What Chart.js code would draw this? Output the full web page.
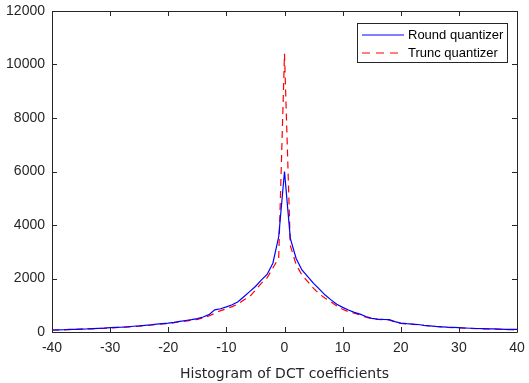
<!DOCTYPE html>
<html>
<head>
<meta charset="utf-8">
<script src="https://cdn.jsdelivr.net/npm/chart.js@4/dist/chart.umd.min.js"></script>
<style>
html,body{margin:0;padding:0;background:#fff;}
#wrap{width:529px;height:383px;position:relative;}
</style>
</head>
<body>
<div id="wrap"><canvas id="c" width="529" height="383"></canvas></div>
<script>
const xValues = [-40,-39,-38,-37,-36,-35,-34,-33,-32,-31,-30,-29,-28,-27,-26,-25,-24,-23,-22,-21,-20,-19,-18,-17,-16,-15,-14,-13,-12,-11,-10,-9,-8,-7,-6,-5,-4,-3,-2,-1,0,1,2,3,4,5,6,7,8,9,10,11,12,13,14,15,16,17,18,19,20,21,22,23,24,25,26,27,28,29,30,31,32,33,34,35,36,37,38,39,40];
const roundValues = [75,80,85,95,100,110,115,125,135,145,160,170,180,195,215,230,250,270,295,315,330,360,400,430,460,500,560,650,830,870,940,1020,1130,1320,1510,1700,1940,2150,2570,3560,6000,3500,2750,2320,2070,1820,1600,1380,1200,1035,920,820,735,670,580,510,480,470,465,390,330,310,295,280,250,230,210,195,180,170,160,150,140,130,125,120,115,105,95,95,100];
const truncValues = [70,75,80,90,95,105,110,120,130,140,150,165,175,190,205,220,240,260,280,300,320,345,380,410,440,470,520,600,700,800,870,950,1045,1200,1320,1570,1820,2020,2390,2760,10400,3230,2520,2130,1880,1630,1420,1260,1130,970,850,760,700,635,550,500,470,455,450,375,320,300,285,270,245,225,205,190,175,165,155,145,135,125,120,115,105,100,90,85,80];
const seriesNames = ["Round quantizer", "Trunc quantizer"];
const seriesColors = ["#0000ff", "#ff0000"];
const seriesDash = [[], [7, 5]];
const xTicks = [-40,-30,-20,-10,0,10,20,30,40];
const yTicks = [0,2000,4000,6000,8000,10000,12000];
const xLabel = "Histogram of DCT coefficients";

const AX = '#262626';
const FONT = '"Liberation Sans", Arial, Helvetica, sans-serif';

const boxPlugin = {
  id: 'box',
  afterDraw(chart) {
    const ctx = chart.ctx, a = chart.chartArea;
    const xs = chart.scales.x, ys = chart.scales.y;
    ctx.save();
    ctx.strokeStyle = AX;
    ctx.lineWidth = 1;
    ctx.beginPath();
    ctx.rect(Math.round(a.left)+0.5, Math.round(a.top)+0.5, Math.round(a.right-a.left), Math.round(a.bottom-a.top));
    ctx.stroke();
    const tl = 5;
    ctx.beginPath();
    xTicks.forEach(v => {
      const p = Math.round(xs.getPixelForValue(v)) + 0.5;
      ctx.moveTo(p, a.bottom); ctx.lineTo(p, a.bottom - tl);
      ctx.moveTo(p, a.top); ctx.lineTo(p, a.top + tl);
    });
    yTicks.forEach(v => {
      const p = Math.round(ys.getPixelForValue(v)) + 0.5;
      ctx.moveTo(a.left, p); ctx.lineTo(a.left + tl, p);
      ctx.moveTo(a.right, p); ctx.lineTo(a.right - tl, p);
    });
    ctx.stroke();

    // legend
    const lx = 357, ly = 23, lw = 150, lh = 39;
    ctx.fillStyle = '#fff';
    ctx.fillRect(lx, ly, lw, lh);
    ctx.strokeStyle = AX;
    ctx.strokeRect(lx + 0.5, ly + 0.5, lw, lh);
    ctx.font = '13px ' + FONT;
    ctx.textBaseline = 'middle';
    seriesNames.forEach((name, i) => {
      const yy = ly + 12 + i * 17.5;
      ctx.save();
      ctx.strokeStyle = seriesColors[i];
      ctx.lineWidth = 1.2;
      ctx.setLineDash(i === 1 ? [8, 6] : []);
      ctx.beginPath();
      ctx.moveTo(lx + 5, Math.round(yy));
      ctx.lineTo(lx + 47, Math.round(yy));
      ctx.stroke();
      ctx.restore();
      ctx.fillStyle = '#000';
      ctx.textAlign = 'left';
      ctx.fillText(name, lx + 51, yy + 0.5);
    });
    ctx.restore();
  }
};

new Chart(document.getElementById('c'), {
  type: 'line',
  data: {
    datasets: [
      { label: seriesNames[0], data: xValues.map((x, i) => ({x, y: roundValues[i]})), borderColor: seriesColors[0], borderWidth: 1.2, borderDash: seriesDash[0], pointRadius: 0, tension: 0, fill: false },
      { label: seriesNames[1], data: xValues.map((x, i) => ({x, y: truncValues[i]})), borderColor: seriesColors[1], borderWidth: 1.2, borderDash: seriesDash[1], pointRadius: 0, tension: 0, fill: false }
    ]
  },
  options: {
    responsive: false,
    animation: false,
    layout: { padding: { left: 0, right: 12, top: 11, bottom: 0 } },
    plugins: { legend: { display: false }, tooltip: { enabled: false } },
    scales: {
      x: {
        type: 'linear', min: -40, max: 40,
        afterBuildTicks: s => { s.ticks = xTicks.map(v => ({value: v})); },
        afterFit: s => { s.height = 51; s.paddingLeft = 0; s.paddingRight = 0; },
        grid: { display: false, drawTicks: false },
        border: { display: false },
        ticks: { color: AX, font: { size: 14, family: FONT }, padding: 8, maxRotation: 0 },
        title: { display: true, text: xLabel, color: AX, font: { size: 14, family: '"DejaVu Sans", sans-serif' }, padding: { top: 4, bottom: 0 } }
      },
      y: {
        min: 0, max: 12000,
        afterBuildTicks: s => { s.ticks = yTicks.map(v => ({value: v})); },
        afterFit: s => { s.width = 52; s.paddingTop = 0; s.paddingBottom = 0; },
        grid: { display: false, drawTicks: false },
        border: { display: false },
        ticks: { color: AX, font: { size: 14, family: FONT }, padding: 7, callback: v => String(v) }
      }
    }
  },
  plugins: [boxPlugin]
});
</script>
</body>
</html>
